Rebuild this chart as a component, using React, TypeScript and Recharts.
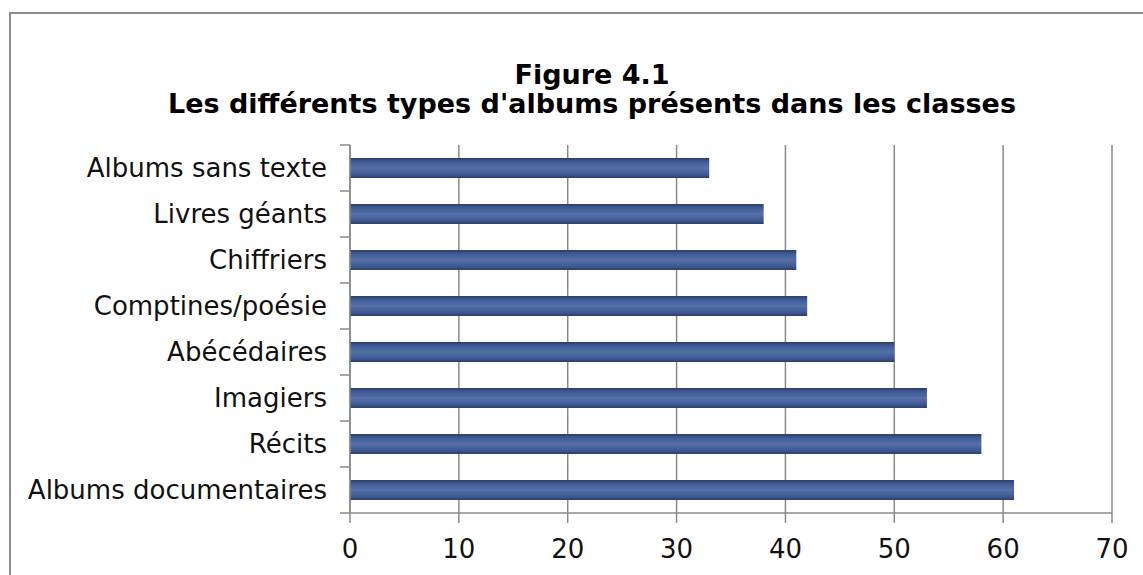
import React from 'react';
import { BarChart, Bar, XAxis, YAxis, CartesianGrid } from 'recharts';

const categories = [
  'Albums sans texte',
  'Livres géants',
  'Chiffriers',
  'Comptines/poésie',
  'Abécédaires',
  'Imagiers',
  'Récits',
  'Albums documentaires',
];
const counts = [33, 38, 41, 42, 50, 53, 58, 61];
const xTicks = [0, 10, 20, 30, 40, 50, 60, 70];

const data = categories.map((name, i) => ({ name, value: counts[i] }));

const W = 1143;
const H = 575;
const M = { top: 145, right: 31, bottom: 0, left: 0 };
const X_AXIS_H = 62;
const Y_AXIS_W = 350;
const FONT = '"Century Gothic", "DejaVu Sans", sans-serif';
const AXIS_GRAY = '#8a8a8a';

const bandH = (H - M.top - M.bottom - X_AXIS_H) / categories.length;

// category label plus the Excel-style tick marks on band boundaries
const CategoryTick = ({ x, y, payload, index }: any) => (
  <g>
    <line x1={x - 10} x2={x} y1={y - bandH / 2} y2={y - bandH / 2} stroke={AXIS_GRAY} strokeWidth={1.5} />
    {index === categories.length - 1 && (
      <line x1={x - 10} x2={x} y1={y + bandH / 2} y2={y + bandH / 2} stroke={AXIS_GRAY} strokeWidth={1.5} />
    )}
    <text x={x - 23} y={y} dy="0.35em" textAnchor="end" fill="#111" fontSize={26} fontFamily={FONT}>
      {payload.value}
    </text>
  </g>
);

export default function App() {
  return (
    <div style={{ position: 'absolute', left: 0, top: 0, width: W, height: H, overflow: 'hidden', background: '#fff' }}>
      <div
        style={{
          position: 'absolute',
          left: 9,
          top: 12,
          width: W,
          height: H,
          borderLeft: '2px solid #8c8c8c',
          borderTop: '2px solid #8c8c8c',
        }}
      />
      <div
        style={{
          position: 'absolute',
          left: 0,
          top: 60,
          width: 1184,
          textAlign: 'center',
          fontFamily: FONT,
          fontWeight: 'bold',
          fontSize: 27,
          lineHeight: '29px',
          color: '#000',
        }}
      >
        <div>Figure 4.1</div>
        <div>Les différents types d'albums présents dans les classes</div>
      </div>
      <div style={{ position: 'absolute', left: 0, top: 0 }}>
        <BarChart width={W} height={H} data={data} layout="vertical" margin={M} barSize={20}>
          <defs>
            <linearGradient id="barFill" x1="0" y1="0" x2="0" y2="1">
              <stop offset="0%" stopColor="#2b3d6b" />
              <stop offset="18%" stopColor="#3f5992" />
              <stop offset="50%" stopColor="#5670a9" />
              <stop offset="82%" stopColor="#3f5992" />
              <stop offset="100%" stopColor="#2b3d6b" />
            </linearGradient>
          </defs>
          <CartesianGrid horizontal={false} stroke={AXIS_GRAY} strokeWidth={1.5} />
          <XAxis
            type="number"
            domain={[0, 70]}
            ticks={xTicks}
            height={X_AXIS_H}
            stroke={AXIS_GRAY}
            strokeWidth={1.5}
            tickSize={10}
            tickMargin={17}
            tick={{ fill: '#111', fontSize: 26, fontFamily: FONT }}
          />
          <YAxis
            type="category"
            dataKey="name"
            width={Y_AXIS_W}
            stroke={AXIS_GRAY}
            strokeWidth={1.5}
            tickLine={false}
            tickSize={0}
            tickMargin={0}
            interval={0}
            tick={<CategoryTick />}
          />
          <Bar dataKey="value" fill="url(#barFill)" isAnimationActive={false} />
        </BarChart>
      </div>
    </div>
  );
}
